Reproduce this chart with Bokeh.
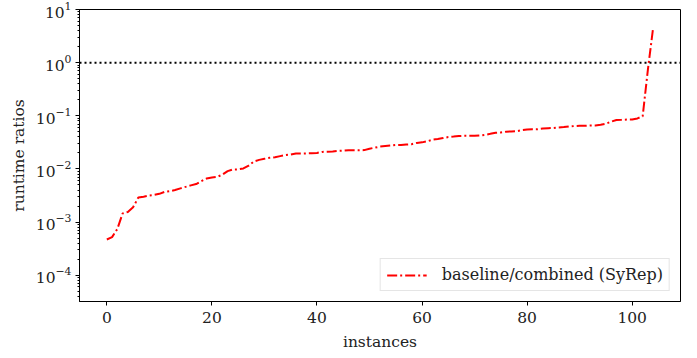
from bokeh.plotting import figure
from bokeh.models import Span, Legend, LegendItem, FixedTicker, LogTicker, Range1d
from bokeh.embed import file_html
from bokeh.resources import INLINE

instances = list(range(105))
ratios = [
    0.00047, 0.00052, 0.00074, 0.00145, 0.00155, 0.0019, 0.0029, 0.0030, 0.00316, 0.00324,
    0.0034, 0.0037, 0.0038, 0.0040, 0.0043, 0.0046, 0.0049, 0.0052, 0.0059, 0.0066,
    0.0069, 0.0071, 0.0078, 0.0091, 0.0098, 0.0098, 0.0102, 0.0115, 0.0138, 0.0148,
    0.0155, 0.0162, 0.0166, 0.0174, 0.0182, 0.0186, 0.0195, 0.0195, 0.0196, 0.0197,
    0.0200, 0.0209, 0.0211, 0.0213, 0.0219, 0.0221, 0.0224, 0.0224, 0.0224, 0.0226,
    0.0240, 0.0251, 0.0263, 0.0269, 0.0275, 0.0282, 0.0282, 0.0288, 0.0292, 0.0309,
    0.0316, 0.0331, 0.0355, 0.0367, 0.0380, 0.0398, 0.0407, 0.0417, 0.0420, 0.0420,
    0.0420, 0.0426, 0.0437, 0.0457, 0.0479, 0.0485, 0.0501, 0.0508, 0.0513, 0.0537,
    0.0550, 0.0557, 0.0557, 0.0575, 0.0583, 0.0590, 0.0603, 0.0612, 0.0631, 0.0640,
    0.0646, 0.0646, 0.0655, 0.0655, 0.0676, 0.0708, 0.0776, 0.0832, 0.0840, 0.0850,
    0.0851, 0.0891, 0.098, 0.75, 4.6,
]
x_ticks = [0, 20, 40, 60, 80, 100]
reference_level = 1.0
series_label = "baseline/combined (SyRep)"
x_title = "instances"
y_title = "runtime ratios"

FONT = "DejaVu Serif"
FS = "15.5px"

p = figure(width=688, height=357, y_axis_type="log",
           x_range=Range1d(-5.2, 109.2), y_range=Range1d(3.2e-5, 10),
           output_backend="svg", toolbar_location=None,
           min_border_left=79, min_border_right=8, min_border_top=9, min_border_bottom=56)

p.xgrid.visible = False
p.ygrid.visible = False
p.outline_line_color = "black"
p.outline_line_width = 1
p.background_fill_color = "white"
p.border_fill_color = "white"

line = p.line(instances, ratios, line_color="red", line_width=2, line_dash="10 3 2 3")

p.add_layout(Span(location=reference_level, dimension="width", line_color="black",
                  line_width=2, line_dash="2 3"))

p.xaxis.ticker = FixedTicker(ticks=x_ticks)
p.yaxis.ticker = LogTicker(num_minor_ticks=10)

for ax in (p.xaxis[0], p.yaxis[0]):
    ax.axis_line_color = "black"
    ax.major_tick_in = 0
    ax.major_tick_out = 4
    ax.minor_tick_in = 0
    ax.minor_tick_out = 2
    ax.major_tick_line_color = "black"
    ax.minor_tick_line_color = "black"
    ax.major_label_text_font = FONT
    ax.major_label_text_font_size = FS
    ax.major_label_text_color = "#222222"
    ax.axis_label_text_font = FONT
    ax.axis_label_text_font_size = FS
    ax.axis_label_text_font_style = "normal"
    ax.axis_label_text_color = "#222222"

p.xaxis.minor_tick_line_color = None
p.xaxis.axis_label = x_title
p.yaxis.axis_label = y_title
p.xaxis.axis_label_standoff = 7
p.yaxis.axis_label_standoff = 5
p.xaxis.major_label_standoff = 6
p.yaxis.major_label_standoff = 4

legend = Legend(items=[LegendItem(label=series_label, renderers=[line])],
                location="bottom_right")
legend.label_text_font = FONT
legend.label_text_font_size = "16px"
legend.label_text_color = "#222222"
legend.glyph_width = 40
legend.glyph_height = 16
legend.border_line_color = "#cccccc"
legend.border_line_width = 1
legend.margin = 10
legend.padding = 6
legend.label_standoff = 15
legend.background_fill_alpha = 0.8
p.add_layout(legend)

open("out.html", "w").write(file_html(p, INLINE))
